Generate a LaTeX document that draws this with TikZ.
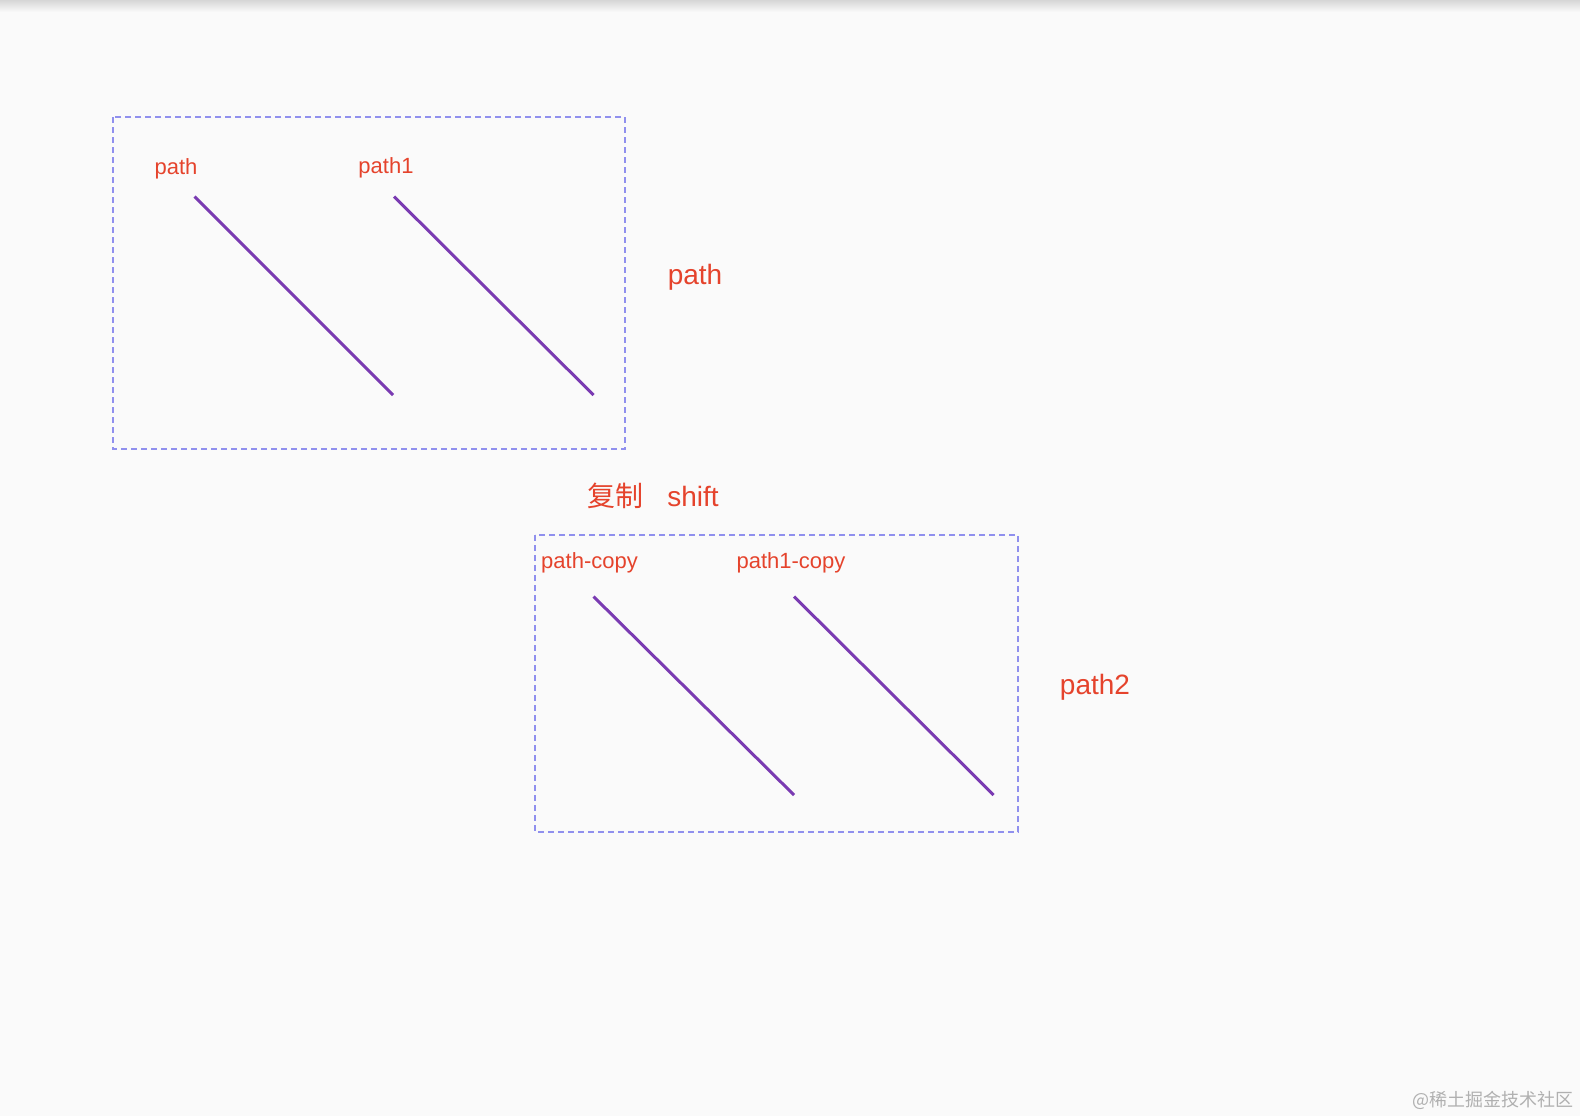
\documentclass[tikz,border=0pt]{standalone}
\usepackage{fontspec}
\setmainfont{Liberation Sans}
\newfontfamily\cjk{Noto Sans CJK SC}
\definecolor{bg}{HTML}{FAFAFA}
\definecolor{lbl}{HTML}{E5432C}
\definecolor{stroke}{HTML}{7A3BB2}
\definecolor{frame}{HTML}{9090EE}
\definecolor{mark}{HTML}{B0B0B0}
\tikzset{
  px/.style={x=1pt,y=-1pt},
  frame box/.style={draw=frame, line width=1.4pt, dash pattern=on 6pt off 4pt},
  seg/.style={draw=stroke, line width=3pt},
  small lbl/.style={text=lbl, font=\fontsize{22}{26}\selectfont, inner sep=0pt},
  big lbl/.style={text=lbl, font=\fontsize{28}{32}\selectfont, inner sep=0pt},
}
\begin{document}
\begin{tikzpicture}[px]
\useasboundingbox (0,0) rectangle (1580,1116);
\fill[bg] (0,0) rectangle (1580,1116);
\shade[top color=black!16, bottom color=bg] (0,0) rectangle (1580,12);
% top group
\draw[frame box] (113,117) rectangle (625,449);
\coordinate (a1) at (194.5,196.5); \coordinate (a2) at (393,395);
\coordinate (b1) at (394,196.5); \coordinate (b2) at (593.5,395);
\draw[seg] (a1) -- (a2);
\draw[seg] (b1) -- (b2);
\node[small lbl] (lp) at (176,169) {path};
\node[small lbl] (lp1) at (386,168) {path1};
\node[big lbl] (bigpath) at (695,277) {path};
\node[big lbl] (copy) at (615,496) {\cjk 复制};
\node[big lbl] (shift) at (693,496) {shift};
% bottom group
\draw[frame box] (535,535) rectangle (1018,832);
\coordinate (c1) at (593.5,596.5); \coordinate (c2) at (794,795);
\coordinate (d1) at (794,596.5); \coordinate (d2) at (993.6,795);
\draw[seg] (c1) -- (c2);
\draw[seg] (d1) -- (d2);
\node[small lbl] (lpc) at (589.5,563) {path-copy};
\node[small lbl] (lp1c) at (791,563) {path1-copy};
\node[big lbl] (path2) at (1095,687) {path2};
\node[text=mark, font=\cjk\fontsize{18}{20}\selectfont, inner sep=0pt] (wm) at (1493,1100) {@稀土掘金技术社区};
\end{tikzpicture}
\end{document}
